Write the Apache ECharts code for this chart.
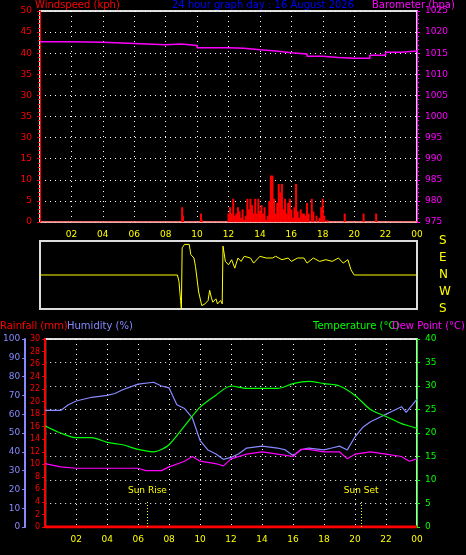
<!DOCTYPE html>
<html><head><meta charset="utf-8">
<script src="https://cdn.jsdelivr.net/npm/echarts@6/dist/echarts.min.js"></script>
<style>html,body{margin:0;background:#000}#c{width:466px;height:555px}</style>
</head><body><div id="c"></div>
<script>
const windTickLabels = {0:'0',5:'5',10:'10',15:'15',20:'30',25:'35',30:'30',35:'35',40:'40',45:'45',50:'50'};
const windHours = [9.05,9.1,10.25,10.3,12.0,12.1,12.2,12.3,12.4,12.5,12.6,12.7,12.8,12.9,13.0,13.1,13.2,13.3,13.4,13.5,13.6,13.7,13.8,13.9,14.0,14.1,14.2,14.3,14.4,14.5,14.6,14.7,14.75,14.8,14.9,15.0,15.1,15.2,15.3,15.4,15.5,15.6,15.7,15.8,15.9,16.0,16.1,16.2,16.3,16.4,16.5,16.6,16.7,16.8,16.9,17.0,17.1,17.3,17.4,17.6,17.8,17.9,18.0,18.1,18.3,19.4,20.6,21.4];
const windSpeed = [3.5,1.5,2,0.5,2,3.5,2,5.5,1.5,2,3.5,2.5,1,3,0.5,1.5,5.5,3,5.5,4,2,5.5,2,5.5,2.5,4,2,3.5,0.5,1.5,5,11,9,11,5.5,2,4.5,9,7,9,3,5.5,2,4.5,5.5,3,1,3.5,9,2.5,1,3,2,2,1.5,4.5,2,5.5,2.5,1.5,1,3.5,5.5,1.5,0.5,2,2,2];
const baroHours = [0,2,4,6,8,9,10,12,13,14,15,16,17,18,19,20,21,22,23,24];
const baroValues = [1017.7,1017.6,1017.3,1017,1017.2,1016.8,1016.3,1016.2,1015.8,1015.5,1015.1,1014.8,1014.3,1014,1013.8,1013.8,1014.5,1015.2,1015.5,1015.6];
const dirHours = [0,8.75,8.85,8.95,9.0,9.05,9.2,9.5,9.6,9.8,9.9,10.1,10.3,10.5,10.7,10.8,10.9,11.0,11.2,11.3,11.5,11.6,11.65,11.8,12,12.2,12.4,12.6,12.8,13,13.4,13.6,14,14.4,14.8,15,15.4,15.8,16,16.4,16.8,17,17.4,17.8,18.2,18.6,19,19.3,19.6,19.8,20,24];
const dirValues = [2,2,1.6,0.5,0,3.6,3.8,3.8,3.2,3,2.5,1,0.2,0.3,0.5,1.1,0.7,0.4,0.6,0.3,0.5,0.3,3.7,2.8,2.6,2.9,2.4,3,2.8,3.1,3,2.7,3.1,3,3,3.1,2.9,3,2.8,3,3,2.7,3,2.8,2.9,2.8,3,2.7,2.9,2.3,2,2];
const dirLabels = ['S','W','N','E','S'];
const humHours = [0,1,1.5,2,3,4,4.5,5,6,7,7.5,8,8.5,9,9.5,10,10.5,11,11.5,12,12.5,13,14,15,15.5,16,16.5,17,18,18.5,19,19.5,20,20.5,21,21.5,22,22.5,23,23.3,23.7,24];
const humValues = [62,62,65,67,69,70,71,73,76,77,75,74,65,63,58,46,41,39,36,37,39,42,43,42,41,38,41,42,41,42,43,41,48,53,56,58,60,62,64,61,65,68];
const tempHours = [0,1,2,3,4,5,6,7,7.5,8,9,10,11,12,13,14,15,16,17,18,19,20,21,22,23,23.5,24];
const tempValues = [21.5,20,19,19,18,17.5,16.5,16,16.5,17.5,21.5,25.5,28,30,29.5,29.5,29.5,30.5,31,30.5,30,28,25,23.5,22,21.5,21];
const dewHours = [0,1,2,4,6,6.5,7.5,8,9,9.5,10,11,11.5,12,13,14,15,16,16.5,17,18,19,19.5,20,21,22,23,23.5,24];
const dewValues = [13.5,12.8,12.5,12.5,12.5,12,12,12.8,14,15,14,13.5,13,14.5,15.5,16,15.5,15,16.5,16.5,16,16,14.5,15.5,16,15.5,15,14,14.5];
const rainHours = [0,24];
const rainValues = [0,0];
const sunRise = 6.6, sunSet = 20.4;

const zip=(a,b)=>a.map((x,i)=>[x,b[i]]);
const hourFmt=v=>v<=0?'':(v>=24?'00':String(v).padStart(2,'0'));
const dots={show:true,lineStyle:{color:'#fff',type:[1,4],width:1}};
const F='DejaVu Sans';
const xa=(gi,show)=>({type:'value',gridIndex:gi,min:0,max:24,interval:2,
  axisLine:{show:false},axisTick:{show:false},
  axisLabel:{show:show,color:'#ff0',fontSize:9,fontFamily:F,formatter:hourFmt,margin:8},
  splitLine:gi==1?{show:false}:dots});
const chart=echarts.init(document.getElementById('c'));
const bigTitle=(t,x,y,c)=>({type:'text',left:x,top:y,style:{text:t,fill:c,font:'10px '+F}});
chart.setOption({
  backgroundColor:'#000',animation:false,
  graphic:[bigTitle('Windspeed (kph)',35,0,'#f00'),bigTitle('24 hour graph day : 16 August 2026',172,0,'#00f'),
    bigTitle('Barometer (hpa)',372,0,'#f0f'),
    bigTitle('Rainfall (mm)',0,321,'#f00'),bigTitle('Humidity (%)',67,321,'#88f'),
    bigTitle('Temperature (°C)',313,321,'#0f0'),bigTitle('Dew Point (°C)',392,321,'#f0f')],
  grid:[{left:40,top:11,width:377,height:211,show:true,borderColor:'#ddd',borderWidth:2},
        {left:40,top:241,width:377,height:68,show:true,borderColor:'#ddd',borderWidth:2},
        {left:42,top:339,width:375,height:188,show:true,borderColor:'#ddd',borderWidth:2}],
  xAxis:[xa(0,true),xa(1,false),xa(2,true)],
  yAxis:[
    {gridIndex:0,min:0,max:50,interval:5,axisLine:{show:true,lineStyle:{color:'#f00'}},
     axisTick:{show:true,length:3},minorTick:{show:true,length:2},
     axisLabel:{color:'#f00',fontSize:9,fontFamily:F,formatter:v=>windTickLabels[v]},splitLine:dots},
    {gridIndex:0,position:'right',min:975,max:1025,interval:5,axisLine:{show:true,lineStyle:{color:'#f0f'}},
     axisTick:{show:true,length:3},minorTick:{show:true,length:2},
     axisLabel:{color:'#f0f',fontSize:9,fontFamily:F,formatter:v=>String(v)},splitLine:{show:false}},
    {gridIndex:1,min:0,max:4,interval:1,axisLine:{show:false},axisTick:{show:false},
     axisLabel:{show:false},splitLine:{show:false}},
    {gridIndex:1,position:'right',min:0,max:4,interval:1,offset:14,axisLine:{show:false},axisTick:{show:false},
     axisLabel:{color:'#ff0',fontSize:12,fontFamily:F,formatter:v=>dirLabels[v]},splitLine:{show:false}},
    {gridIndex:2,position:'left',min:0,max:30,interval:2,axisLine:{show:true,lineStyle:{color:'#f00',width:2}},
     axisTick:{show:true,length:3},axisLabel:{color:'#f00',fontSize:8,fontFamily:F,margin:5},splitLine:{show:false}},
    {gridIndex:2,position:'left',min:0,max:100,interval:10,offset:20,axisLine:{show:true,lineStyle:{color:'#88f',width:2}},
     axisTick:{show:true,length:3},axisLabel:{color:'#88f',fontSize:9,fontFamily:F,margin:5},splitLine:{show:false}},
    {gridIndex:2,position:'right',min:0,max:40,interval:5,axisLine:{show:true,lineStyle:{color:'#0f0'}},
     axisTick:{show:true,length:3},axisLabel:{color:'#0f0',fontSize:9,fontFamily:F},splitLine:dots}
  ],
  series:[
    {type:'line',xAxisIndex:0,yAxisIndex:1,data:zip(baroHours,baroValues),symbol:'none',
     lineStyle:{color:'#f0f',width:1.5},step:'end'},
    {type:'bar',xAxisIndex:0,yAxisIndex:0,data:zip(windHours,windSpeed),barWidth:2,itemStyle:{color:'#f00'}},
    {type:'line',xAxisIndex:0,yAxisIndex:0,data:[[0,0],[24,0]],symbol:'none',lineStyle:{color:'#f00',width:1}},
    {type:'line',xAxisIndex:1,yAxisIndex:2,data:zip(dirHours,dirValues),symbol:'none',lineStyle:{color:'#ff0',width:1}},
    {type:'line',xAxisIndex:2,yAxisIndex:5,data:zip(humHours,humValues),symbol:'none',lineStyle:{color:'#88f',width:1.2}},
    {type:'line',xAxisIndex:2,yAxisIndex:6,data:zip(tempHours,tempValues),symbol:'none',smooth:0.3,lineStyle:{color:'#0f0',width:1.2}},
    {type:'line',xAxisIndex:2,yAxisIndex:6,data:zip(dewHours,dewValues),symbol:'none',lineStyle:{color:'#f0f',width:1.2}},
    {type:'line',xAxisIndex:2,yAxisIndex:4,data:zip(rainHours,rainValues),symbol:'none',lineStyle:{color:'#f00',width:3},
     markLine:{symbol:'none',silent:true,lineStyle:{color:'#ff0',type:[1,2],width:1},
      label:{show:true,position:'end',color:'#ff0',fontSize:9,fontFamily:F,formatter:'{b}'},
      data:[[{name:'Sun Rise',coord:[sunRise,0]},{coord:[sunRise,4.3]}],
            [{name:'Sun Set',coord:[sunSet,0]},{coord:[sunSet,4.3]}]]}}
  ]
});
</script></body></html>
